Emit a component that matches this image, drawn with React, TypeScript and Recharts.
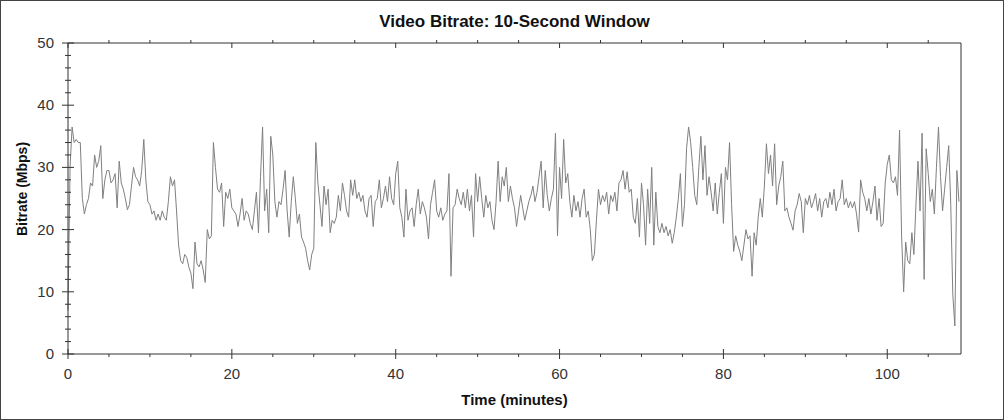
import { LineChart, Line, XAxis, YAxis } from "recharts";

const TITLE = "Video Bitrate: 10-Second Window";
const X_TITLE = "Time (minutes)";
const Y_TITLE = "Bitrate (Mbps)";

// one sample every quarter minute, starting at 0 (each row = 5 minutes)
const STEP_MINUTES = 0.25;
const BITRATE = [
  7, 30, 36.5, 34, 34.5, 34, 34, 25, 22.5, 24, 25, 27.5, 27, 32, 30, 31, 33.5, 25, 28, 29.5,
  29.5, 27.5, 28, 29, 23.5, 31, 27.5, 26.5, 25, 23.2, 24, 27, 30, 28.5, 28, 27, 29.5, 34.5, 28, 24.5,
  24, 22.5, 23, 21.5, 22.5, 21.5, 23, 22, 21.5, 24.5, 28.5, 27, 28, 23, 17.5, 15, 14.5, 16, 15.5, 14,
  13, 10.5, 18, 14.5, 14, 15, 13.5, 11.5, 20, 18.5, 19, 34, 30, 26.5, 26, 27.5, 20.5, 26, 25, 26.5,
  23.5, 23, 22.5, 20.5, 22.5, 25, 21.5, 23, 22.5, 21, 20, 23, 26, 19.5, 28.5, 36.5, 23, 26.5, 19.5, 35,
  32, 24.5, 22, 24.5, 24, 26.5, 29.5, 23, 18.8, 24.5, 28.5, 25, 21, 22.5, 18.8, 18, 17, 15, 13.5, 16,
  17, 34, 27.5, 24, 20.5, 27, 24, 26.5, 19.5, 21.5, 21, 22, 25.5, 23, 27.5, 25.5, 23, 22, 28, 25.5,
  28, 25, 26, 24.5, 25.5, 23, 22, 25, 25.5, 20.5, 24.5, 25, 28, 23.5, 25, 27, 24.5, 28.5, 25, 24,
  29, 31, 23.5, 22, 18.8, 26.5, 21.5, 23, 23.5, 20.5, 24, 26.5, 22.5, 24.5, 23.5, 22, 18.5, 24, 26, 28,
  23, 22, 23.5, 21.5, 22.5, 23, 29, 12.5, 23.5, 24, 26.5, 25, 24, 26, 23.5, 26.5, 23, 25.5, 18.8, 29,
  24.5, 28.5, 25, 22, 25.5, 23.5, 24.5, 21.5, 20, 24.5, 31, 24.5, 28.5, 27, 30, 24.5, 27, 25, 23.5, 20.5,
  23, 25.5, 23.5, 21.5, 23, 24.5, 25.5, 27, 24.5, 26, 28.5, 31, 23.5, 29.5, 25.5, 23, 25, 26.5, 35.5, 19,
  30, 25, 34.5, 27.5, 29, 24.5, 22, 25.5, 23, 24.5, 22, 25, 26.5, 22, 23, 20, 15, 16, 21.5, 26.5,
  24, 25.5, 24.5, 26, 22.5, 25.5, 24.5, 26, 23, 27.5, 28, 29.5, 26.5, 29.3, 26, 26.5, 22, 21, 25, 18.8,
  27.5, 24, 17.5, 26.5, 21, 30, 17.5, 26, 20.5, 19.5, 21, 19.5, 20.5, 19, 20, 17.8, 19.5, 22, 25, 29,
  20.5, 24, 33, 36.5, 34, 30, 25.5, 24, 30, 35, 28, 33.5, 25.5, 28.5, 26, 23, 27.5, 22.5, 26, 29,
  21, 30, 28, 34, 24, 16.5, 19, 17.5, 16.5, 15, 17.5, 20, 18.5, 19, 12.5, 19.5, 17.5, 22, 25, 22,
  27, 33.8, 29, 32, 27, 33.8, 24, 27, 28.5, 31, 23, 23.5, 22, 21, 19.9, 23, 24, 25.8, 24.5, 19.5,
  25, 24, 25.5, 23.5, 24.5, 25.8, 23, 25, 22, 24.5, 25, 23.5, 26, 24, 26.5, 23, 24.5, 25, 28, 24,
  25, 23.5, 24.5, 23.5, 24.5, 22.5, 19.6, 28, 26, 25, 23, 25, 22.5, 24.5, 27, 21.5, 25, 20.5, 21, 27.5,
  30.5, 32, 28, 27.5, 28.5, 25.5, 36, 19, 10, 18, 15, 14.5, 19.5, 16, 24, 31, 23, 35.5, 12, 33,
  29, 24.5, 26.5, 22.5, 30, 36.5, 28.5, 23, 26.5, 30, 33.5, 24, 9.5, 4.5, 29.5, 24.5,
];

const X_DOMAIN = [0, 109];
const X_TICKS = [0, 5, 10, 15, 20, 25, 30, 35, 40, 45, 50, 55, 60, 65, 70, 75, 80, 85, 90, 95, 100, 105];
const X_LABELS = [0, 20, 40, 60, 80, 100];
const Y_DOMAIN = [0, 50];
const Y_TICKS = [0, 2, 4, 6, 8, 10, 12, 14, 16, 18, 20, 22, 24, 26, 28, 30, 32, 34, 36, 38, 40, 42, 44, 46, 48, 50];
const Y_LABELS = [0, 10, 20, 30, 40, 50];

const data = BITRATE.map((v, i) => ({ t: i * STEP_MINUTES, v }));

const INK = "#333";
const FONT = "'Liberation Sans', Arial, sans-serif";

function BottomTick({ x, y, payload }: any) {
  const major = X_LABELS.includes(payload.value);
  return (
    <g>
      <line x1={x} x2={x} y1={major ? y - 5 : y} y2={y + (major ? 5 : 3)} stroke={INK} />
      {major && (
        <text x={x} y={y + 25} textAnchor="middle" fontSize={15} fill={INK} fontFamily={FONT}>
          {payload.value}
        </text>
      )}
    </g>
  );
}

function TopTick({ x, y, payload }: any) {
  const major = X_LABELS.includes(payload.value);
  return <line x1={x} x2={x} y1={major ? y + 5 : y} y2={y - (major ? 0 : 3)} stroke={INK} />;
}

function LeftTick({ x, y, payload }: any) {
  const major = Y_LABELS.includes(payload.value);
  const s = major ? 6 : 3;
  return (
    <g>
      <line x1={x - s} x2={x + s} y1={y} y2={y} stroke={INK} />
      {major && (
        <text x={x - 14} y={y + 5} textAnchor="end" fontSize={15} fill={INK} fontFamily={FONT}>
          {payload.value}
        </text>
      )}
    </g>
  );
}

function RightTick({ x, y, payload }: any) {
  const major = Y_LABELS.includes(payload.value);
  const s = major ? 6 : 3;
  return (
    <g>
      <line x1={x - s} x2={x + s} y1={y} y2={y} stroke={INK} />
      {major && (
        <text x={x + 14} y={y + 5} textAnchor="start" fontSize={15} fill={INK} fontFamily={FONT}>
          {payload.value}
        </text>
      )}
    </g>
  );
}

export default function App() {
  return (
    <div style={{ position: "absolute", left: 0, top: 0, width: 1004, height: 420, background: "#fff", fontFamily: FONT }}>
      <LineChart width={1004} height={420} data={data} margin={{ top: 0, right: 0, bottom: 0, left: 0 }}>
        <XAxis
          dataKey="t"
          type="number"
          domain={X_DOMAIN}
          ticks={X_TICKS}
          interval={0}
          height={66}
          tickSize={0}
          tickMargin={0}
          tick={<BottomTick />}
          axisLine={{ stroke: INK }}
          tickLine={false}
        />
        <XAxis
          xAxisId="top"
          orientation="top"
          dataKey="t"
          type="number"
          domain={X_DOMAIN}
          ticks={X_TICKS}
          interval={0}
          height={43}
          tickSize={0}
          tickMargin={0}
          tick={<TopTick />}
          axisLine={{ stroke: INK }}
          tickLine={false}
        />
        <YAxis
          domain={Y_DOMAIN}
          ticks={Y_TICKS}
          interval={0}
          width={68}
          tickSize={0}
          tickMargin={0}
          tick={<LeftTick />}
          axisLine={{ stroke: INK }}
          tickLine={false}
        />
        <YAxis
          yAxisId="right"
          orientation="right"
          domain={Y_DOMAIN}
          ticks={Y_TICKS}
          interval={0}
          width={43}
          tickSize={0}
          tickMargin={0}
          tick={<RightTick />}
          axisLine={{ stroke: INK }}
          tickLine={false}
        />
        <Line
          dataKey="v"
          type="linear"
          stroke="#808080"
          strokeWidth={1}
          dot={false}
          isAnimationActive={false}
        />
      </LineChart>
      <div style={{ position: "absolute", left: 68, width: 893, top: 12, lineHeight: "20px", textAlign: "center", fontWeight: "bold", fontSize: 17, color: "#111" }}>
        {TITLE}
      </div>
      <div style={{ position: "absolute", left: 68, width: 893, top: 391, lineHeight: "18px", textAlign: "center", fontWeight: "bold", fontSize: 15, color: "#111" }}>
        {X_TITLE}
      </div>
      <div
        style={{
          position: "absolute",
          left: 22,
          top: 189,
          transform: "translate(-50%, -50%) rotate(-90deg)",
          whiteSpace: "nowrap",
          lineHeight: "16px",
          fontWeight: "bold",
          fontSize: 14,
          color: "#111",
        }}
      >
        {Y_TITLE}
      </div>
      <div style={{ position: "absolute", inset: 0, border: "1px solid #444", boxSizing: "border-box", pointerEvents: "none" }} />
    </div>
  );
}
